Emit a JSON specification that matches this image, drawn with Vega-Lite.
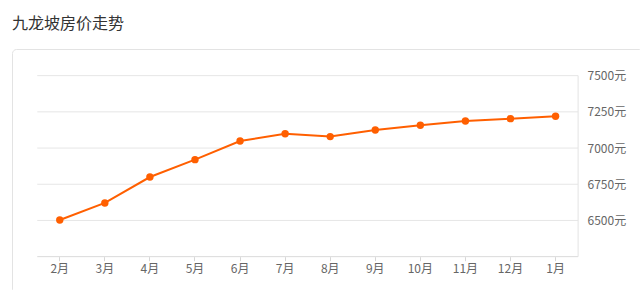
{
  "$schema": "https://vega.github.io/schema/vega-lite/v6.json",
  "autosize": "none",
  "width": 631,
  "height": 244,
  "padding": {"left": 12, "top": 49, "right": -3, "bottom": -3},
  "background": "white",
  "config": {
    "view": {"stroke": "#e3e3e3", "strokeWidth": 1, "cornerRadius": 4},
    "font": "Noto Sans CJK SC",
    "axisX": {
      "title": null,
      "orient": "bottom",
      "offset": -36.3,
      "domain": false,
      "grid": false,
      "ticks": true,
      "tickSize": 4,
      "tickColor": "#d6d6d6",
      "labelPadding": 3,
      "labelFontSize": 12,
      "labelColor": "#666666",
      "labelFont": "Noto Sans CJK SC",
      "labelAngle": 0
    },
    "axisY": {
      "title": null,
      "orient": "right",
      "offset": -65,
      "domain": false,
      "grid": false,
      "ticks": false,
      "tickSize": 0,
      "labelPadding": 9,
      "labelFontSize": 12,
      "labelColor": "#666666",
      "labelFont": "Noto Sans CJK SC",
      "labelBaseline": "middle"
    }
  },
  "title": {
    "text": "九龙坡房价走势",
    "anchor": "start",
    "frame": "group",
    "fontSize": 16,
    "fontWeight": "normal",
    "color": "#333333",
    "font": "Noto Sans CJK SC",
    "baseline": "alphabetic",
    "offset": 4
  },
  "datasets": {
    "prices": [
      {"month": "2月", "price": 6503},
      {"month": "3月", "price": 6621},
      {"month": "4月", "price": 6800},
      {"month": "5月", "price": 6920},
      {"month": "6月", "price": 7049},
      {"month": "7月", "price": 7099},
      {"month": "8月", "price": 7079},
      {"month": "9月", "price": 7125},
      {"month": "10月", "price": 7157},
      {"month": "11月", "price": 7187},
      {"month": "12月", "price": 7203},
      {"month": "1月", "price": 7220}
    ],
    "grid": [
      {"price": 6500, "month": "2月", "month2": "1月"},
      {"price": 6750, "month": "2月", "month2": "1月"},
      {"price": 7000, "month": "2月", "month2": "1月"},
      {"price": 7250, "month": "2月", "month2": "1月"},
      {"price": 7500, "month": "2月", "month2": "1月"}
    ],
    "base": [
      {"price": 6250, "month": "2月", "month2": "1月"}
    ],
    "edge": [
      {"month": "1月", "price": 7500, "price2": 6250}
    ]
  },
  "encoding": {
    "x": {
      "field": "month",
      "type": "ordinal",
      "title": null,
      "scale": {
        "type": "band",
        "domain": ["2月", "3月", "4月", "5月", "6月", "7月", "8月", "9月", "10月", "11月", "12月", "1月"],
        "paddingInner": 0,
        "paddingOuter": 1.0111,
        "align": 0.28
      }
    },
    "y": {
      "field": "price",
      "type": "quantitative",
      "title": null,
      "scale": {"domain": [5999, 7684], "nice": false, "zero": false},
      "axis": {
        "values": [6500, 6750, 7000, 7250, 7500],
        "labelExpr": "datum.value + '元'"
      }
    }
  },
  "layer": [
    {
      "data": {"name": "grid"},
      "mark": {"type": "rule", "color": "#e6e6e6", "strokeWidth": 1},
      "encoding": {
        "x": {"field": "month", "type": "ordinal", "title": null, "bandPosition": 0},
        "x2": {"field": "month2", "bandPosition": 1}
      }
    },
    {
      "data": {"name": "base"},
      "mark": {"type": "rule", "color": "#dadada", "strokeWidth": 1},
      "encoding": {
        "x": {"field": "month", "type": "ordinal", "title": null, "bandPosition": 0},
        "x2": {"field": "month2", "bandPosition": 1}
      }
    },
    {
      "data": {"name": "edge"},
      "mark": {"type": "rule", "color": "#e3e3e3", "strokeWidth": 1},
      "encoding": {
        "x": {"field": "month", "type": "ordinal", "title": null, "bandPosition": 1},
        "y2": {"field": "price2"}
      }
    },
    {
      "data": {"name": "prices"},
      "mark": {"type": "line", "color": "#ff5f00", "strokeWidth": 2}
    },
    {
      "data": {"name": "prices"},
      "mark": {"type": "point", "filled": true, "color": "#ff5f00", "size": 55, "opacity": 1}
    }
  ]
}
